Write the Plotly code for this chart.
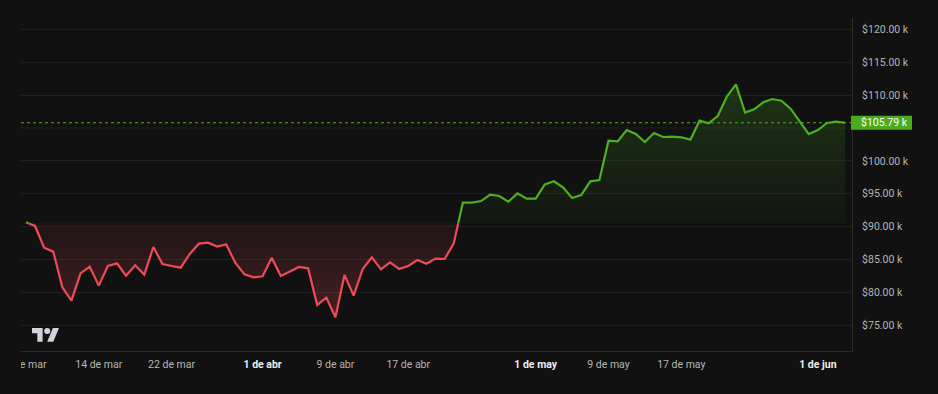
import plotly.graph_objects as go
import pandas as pd

# ---------------- data ----------------
start_date = "2025-03-06"
prices_k = [
    90.65, 90.10, 86.80, 86.20, 80.77, 78.75, 82.90, 83.92, 81.03, 84.02,
    84.42, 82.55, 84.12, 82.70, 86.90, 84.32, 84.02, 83.76, 85.84, 87.41,
    87.56, 86.96, 87.31, 84.52, 82.75, 82.29, 82.45, 85.28, 82.50, 83.21,
    83.86, 83.66, 78.09, 79.20, 76.21, 82.65, 79.51, 83.56, 85.33, 83.51,
    84.57, 83.56, 84.02, 84.93, 84.37, 85.13, 85.08, 87.46, 93.64, 93.64,
    93.89, 94.86, 94.66, 93.80, 95.06, 94.25, 94.25, 96.43, 96.89, 95.97,
    94.35, 94.81, 96.89, 97.09, 103.07, 102.97, 104.69, 104.08, 102.87, 104.24,
    103.63, 103.68, 103.58, 103.22, 106.11, 105.71, 106.82, 109.76, 111.63, 107.33,
    107.83, 108.90, 109.40, 109.15, 107.93, 106.01, 104.08, 104.69, 105.76, 105.96,
    105.79,
]
baseline_k = 90.5
last_price_k = 105.79
last_price_label = "$105.79 k"

y_tick_vals = [75, 80, 85, 90, 95, 100, 110, 115, 120]   # 105 sits under the price label
y_tick_text = ["$75.00 k", "$80.00 k", "$85.00 k", "$90.00 k", "$95.00 k",
               "$100.00 k", "$110.00 k", "$115.00 k", "$120.00 k"]
hidden_grid_vals = [105]

tick_dates = ["2025-03-06", "2025-03-14", "2025-03-22", "2025-04-01", "2025-04-09",
              "2025-04-17", "2025-05-01", "2025-05-09", "2025-05-17", "2025-06-01"]
tick_labels = ["6 de mar", "14 de mar", "22 de mar", "1 de abr", "9 de abr",
               "17 de abr", "1 de may", "9 de may", "17 de may", "1 de jun"]
month_start = [False, False, False, True, False, False, True, False, False, True]

# ---------------- style ----------------
BG = "#111111"
GRID = "#1f1f1f"
AXIS = "#2b2b2b"
GREEN = "#4cb020"
GREEN_BOX = "#4aab1f"
RED = "#f04b55"
TXT = "#b5b5b5"
TXT_BOLD = "#eeeeee"
FONT = "Roboto"
FS = 10.5

dates = list(pd.date_range(start_date, periods=len(prices_k)))

# insert baseline crossings so colours switch exactly at the baseline
xs, ys = [], []
for i, (d, p) in enumerate(zip(dates, prices_k)):
    xs.append(d)
    ys.append(p)
    if i < len(prices_k) - 1:
        q = prices_k[i + 1]
        if (p - baseline_k) * (q - baseline_k) < 0:
            f = (baseline_k - p) / (q - p)
            xs.append(d + (dates[i + 1] - d) * f)
            ys.append(baseline_k)

upper = [max(v, baseline_k) for v in ys]
lower = [min(v, baseline_k) for v in ys]
green_line = [v if v >= baseline_k else None for v in ys]
red_line = [v if v <= baseline_k else None for v in ys]
base_arr = [baseline_k] * len(xs)

fig = go.Figure()
# green fill
fig.add_trace(go.Scatter(x=xs, y=base_arr, mode="lines", line=dict(width=0),
                         hoverinfo="skip", showlegend=False))
fig.add_trace(go.Scatter(
    x=xs, y=upper, mode="lines", line=dict(width=0), fill="tonexty",
    fillgradient=dict(type="vertical", start=baseline_k, stop=max(prices_k),
                      colorscale=[[0, "rgba(76,176,32,0.03)"], [1, "rgba(76,176,32,0.22)"]]),
    hoverinfo="skip", showlegend=False))
# red fill
fig.add_trace(go.Scatter(x=xs, y=base_arr, mode="lines", line=dict(width=0),
                         hoverinfo="skip", showlegend=False))
fig.add_trace(go.Scatter(
    x=xs, y=lower, mode="lines", line=dict(width=0), fill="tonexty",
    fillgradient=dict(type="vertical", start=min(prices_k), stop=baseline_k,
                      colorscale=[[0, "rgba(240,75,85,0.24)"], [1, "rgba(240,75,85,0.06)"]]),
    hoverinfo="skip", showlegend=False))
# lines
fig.add_trace(go.Scatter(x=xs, y=red_line, mode="lines", line=dict(color=RED, width=2.2),
                         connectgaps=False, showlegend=False))
fig.add_trace(go.Scatter(x=xs, y=green_line, mode="lines", line=dict(color=GREEN, width=2.2),
                         connectgaps=False, showlegend=False))

# x range: a little padding around the data (in days)
x_left = dates[0] - pd.Timedelta(hours=13)
x_right = dates[-1] + pd.Timedelta(hours=18)

ticktext = [f"<b><span style='color:{TXT_BOLD}'>{t}</span></b>" if m else t
            for t, m in zip(tick_labels, month_start)]

fig.update_layout(
    width=938, height=394,
    margin=dict(l=21, r=86, t=18, b=43, autoexpand=False),
    paper_bgcolor=BG, plot_bgcolor=BG,
    font=dict(family=FONT, size=FS, color=TXT),
    showlegend=False,
    xaxis=dict(
        range=[x_left, x_right], tickvals=pd.to_datetime(tick_dates), ticktext=ticktext,
        showgrid=False, zeroline=False, showline=True, linecolor=AXIS, linewidth=1,
        ticks="", ticklabelstandoff=3, tickfont=dict(size=FS, color=TXT), automargin=False,
    ),
    yaxis=dict(
        side="right", range=[71.09, 121.72], tickvals=y_tick_vals, ticktext=y_tick_text,
        showgrid=True, gridcolor=GRID, gridwidth=1, zeroline=False,
        showline=True, linecolor=AXIS, linewidth=1, mirror=False,
        ticks="", ticklabelstandoff=7, tickfont=dict(size=FS, color=TXT), automargin=False,
    ),
)

shapes = []
for gv in hidden_grid_vals:
    shapes.append(dict(type="line", xref="paper", yref="y", x0=0, x1=1, y0=gv, y1=gv,
                       line=dict(color=GRID, width=1), layer="below"))
shapes += [
    # last-price dotted line
    dict(type="line", xref="paper", yref="y", x0=0, x1=1, y0=last_price_k, y1=last_price_k,
         line=dict(color=GREEN, width=1, dash="dot"), layer="above"),
    # last-price label box
    dict(type="rect", xref="paper", yref="y", xsizemode="pixel", ysizemode="pixel",
         xanchor=1, yanchor=last_price_k, x0=-1, x1=60, y0=-7, y1=7,
         fillcolor=GREEN_BOX, line=dict(width=0), layer="above"),
    # pane clipping on the left under the axis
    dict(type="rect", xref="paper", yref="paper", xsizemode="pixel", ysizemode="pixel",
         xanchor=0, yanchor=0, x0=-21, x1=0, y0=-40, y1=-2,
         fillcolor=BG, line=dict(width=0), layer="above"),
]

# TradingView logo (36x28 viewBox scaled), anchored at the bottom-left of the pane
s = 0.76
ox, oy = 32 - 21, 351 - 325  # pixel offset from pane bottom-left (y up)
def P(X, Y):
    return f"{ox + s * X:.2f},{oy - s * Y:.2f}"
logo_paths = [
    "M" + P(14, 22) + " L" + P(7, 22) + " L" + P(7, 11) + " L" + P(0, 11) +
    " L" + P(0, 4) + " L" + P(14, 4) + " Z",
    "M" + P(28, 22) + " L" + P(20, 22) + " L" + P(27.5, 4) + " L" + P(35.5, 4) + " Z",
]
for pth in logo_paths:
    shapes.append(dict(type="path", xref="paper", yref="paper", xsizemode="pixel",
                       ysizemode="pixel", xanchor=0, yanchor=0, path=pth,
                       fillcolor="#d1d4dc", line=dict(width=0), layer="above"))
shapes.append(dict(type="circle", xref="paper", yref="paper", xsizemode="pixel",
                   ysizemode="pixel", xanchor=0, yanchor=0,
                   x0=ox + s * 16, x1=ox + s * 24, y0=oy - s * 12, y1=oy - s * 4,
                   fillcolor="#d1d4dc", line=dict(width=0), layer="above"))
fig.update_layout(shapes=shapes)

fig.add_annotation(x=1, xref="paper", y=last_price_k, yref="y", xanchor="left", xshift=7,
                   text=last_price_label, showarrow=False,
                   font=dict(family=FONT, size=FS, color="#ffffff"))

fig.write_html("out.html", config={"displayModeBar": False})

# remove the default page margin so the figure fills the window exactly
with open("out.html", "r", encoding="utf-8") as fh:
    html = fh.read()
html = html.replace("<head>", "<head><style>html,body{margin:0;padding:0;background:#111111;overflow:hidden}</style>", 1)
with open("out.html", "w", encoding="utf-8") as fh:
    fh.write(html)
